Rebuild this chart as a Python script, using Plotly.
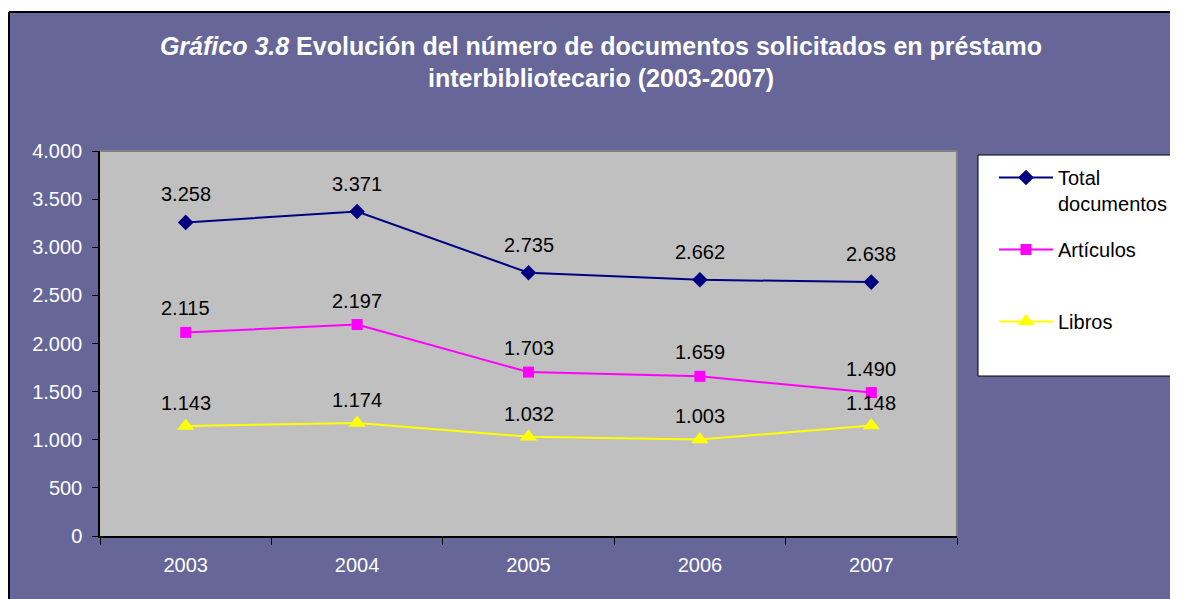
import plotly.graph_objects as go

# Data
years = ["2003", "2004", "2005", "2006", "2007"]
total_documentos = [3258, 3371, 2735, 2662, 2638]
articulos = [2115, 2197, 1703, 1659, 1490]
libros = [1143, 1174, 1032, 1003, 1148]

series_names = ["Total<br>documentos", "Artículos<br> ", "Libros"]
series_values = [total_documentos, articulos, libros]
series_colors = ["#000080", "#FF00FF", "#FFFF00"]
series_symbols = ["diamond", "square", "triangle-up"]
series_sizes = [12, 11, 15]
label_shifts = [28, 24, 23]

# page body has an 8px margin, so the figure is drawn 8px in from the corner
W, H = 1170, 591
L, R, T, B = 92, 221, 143, 63
FONT = "Liberation Sans, Arial, sans-serif"


def px_x(x):
    return (x - L) / (W - L - R)


def px_y(y):
    return (H - B - y) / (H - T - B)


fig = go.Figure()

for name, vals, color, sym, size, shift in zip(
    series_names, series_values, series_colors, series_symbols, series_sizes, label_shifts
):
    fig.add_trace(
        go.Scatter(
            x=years,
            y=vals,
            name=name,
            legendgroup=name,
            mode="lines+markers",
            line={"color": color, "width": 2},
            marker={"symbol": sym, "size": size, "color": color},
        )
    )
    for i, v in enumerate(vals):
        fig.add_annotation(
            x=i,
            y=v,
            text=f"{v:,}".replace(",", "."),
            showarrow=False,
            yshift=shift,
            font={"size": 20, "color": "black", "family": FONT},
        )

shapes = [
    # white strip above and left of the purple chart area, with dark edges
    {"type": "rect", "xref": "paper", "yref": "paper",
     "x0": px_x(-10), "x1": px_x(W + 10), "y0": px_y(4), "y1": px_y(-10),
     "fillcolor": "white", "line": {"width": 0}},
    {"type": "rect", "xref": "paper", "yref": "paper",
     "x0": px_x(-10), "x1": px_x(1), "y0": px_y(H + 10), "y1": px_y(-10),
     "fillcolor": "white", "line": {"width": 0}},
    {"type": "line", "xref": "paper", "yref": "paper",
     "x0": px_x(1), "x1": px_x(W - 3), "y0": px_y(4), "y1": px_y(4),
     "line": {"color": "black", "width": 2}},
    {"type": "line", "xref": "paper", "yref": "paper",
     "x0": px_x(1), "x1": px_x(1), "y0": px_y(4), "y1": px_y(H + 5),
     "line": {"color": "black", "width": 2}},
    {"type": "line", "xref": "paper", "yref": "paper",
     "x0": px_x(W - 2), "x1": px_x(W - 2), "y0": px_y(4), "y1": px_y(H + 5),
     "line": {"color": "#9999aa", "width": 1}},
    # plot area border (top and right)
    {"type": "line", "xref": "paper", "yref": "paper",
     "x0": 0, "x1": 1, "y0": 1, "y1": 1,
     "line": {"color": "#808080", "width": 2}},
    {"type": "line", "xref": "paper", "yref": "paper",
     "x0": 1, "x1": 1, "y0": 0, "y1": 1,
     "line": {"color": "#808080", "width": 2}},
    # legend box
    {"type": "rect", "xref": "paper", "yref": "paper",
     "x0": px_x(970), "x1": px_x(W + 5), "y0": px_y(368), "y1": px_y(147),
     "fillcolor": "white", "line": {"color": "black", "width": 1}},
]

fig.update_layout(
    width=W,
    height=H,
    margin={"l": L, "r": R, "t": T, "b": B, "autoexpand": False},
    paper_bgcolor="#666699",
    plot_bgcolor="#C0C0C0",
    separators=",.",
    font={"family": FONT, "size": 20, "color": "white"},
    title={
        "text": "<i>Gráfico 3.8</i> Evolución del número de documentos solicitados en préstamo"
                "<br>interbibliotecario (2003-2007)",
        "font": {"size": 25, "color": "white", "family": FONT, "weight": "bold"},
        "x": 593 / W,
        "xanchor": "center",
        "xref": "container",
        "y": 1 - 46.5 / H,
        "yanchor": "middle",
        "yref": "container",
    },
    shapes=shapes,
    showlegend=True,
    legend={
        "x": px_x(986),
        "y": px_y(150),
        "xanchor": "left",
        "yanchor": "top",
        "bgcolor": "rgba(0,0,0,0)",
        "borderwidth": 0,
        "font": {"size": 20, "color": "black", "family": FONT},
        "valign": "top",
        "tracegroupgap": 17,
        "itemwidth": 54,
    },
    xaxis={
        "type": "category",
        "categoryarray": years,
        "range": [-0.5, len(years) - 0.5],
        "showgrid": False,
        "showline": True,
        "linecolor": "black",
        "linewidth": 1.5,
        "ticks": "outside",
        "tickson": "boundaries",
        "ticklen": 7,
        "tickcolor": "black",
        "tickangle": 0,
        "ticklabelstandoff": 10,
        "tickfont": {"size": 20, "color": "white"},
    },
    yaxis={
        "range": [0, 4000],
        "dtick": 500,
        "tickformat": ",d",
        "showgrid": False,
        "zeroline": False,
        "showline": True,
        "linecolor": "black",
        "linewidth": 1.5,
        "ticks": "outside",
        "ticklen": 6,
        "tickcolor": "black",
        "ticklabelstandoff": 6,
        "tickfont": {"size": 20, "color": "white"},
    },
)

fig.write_html("out.html")
